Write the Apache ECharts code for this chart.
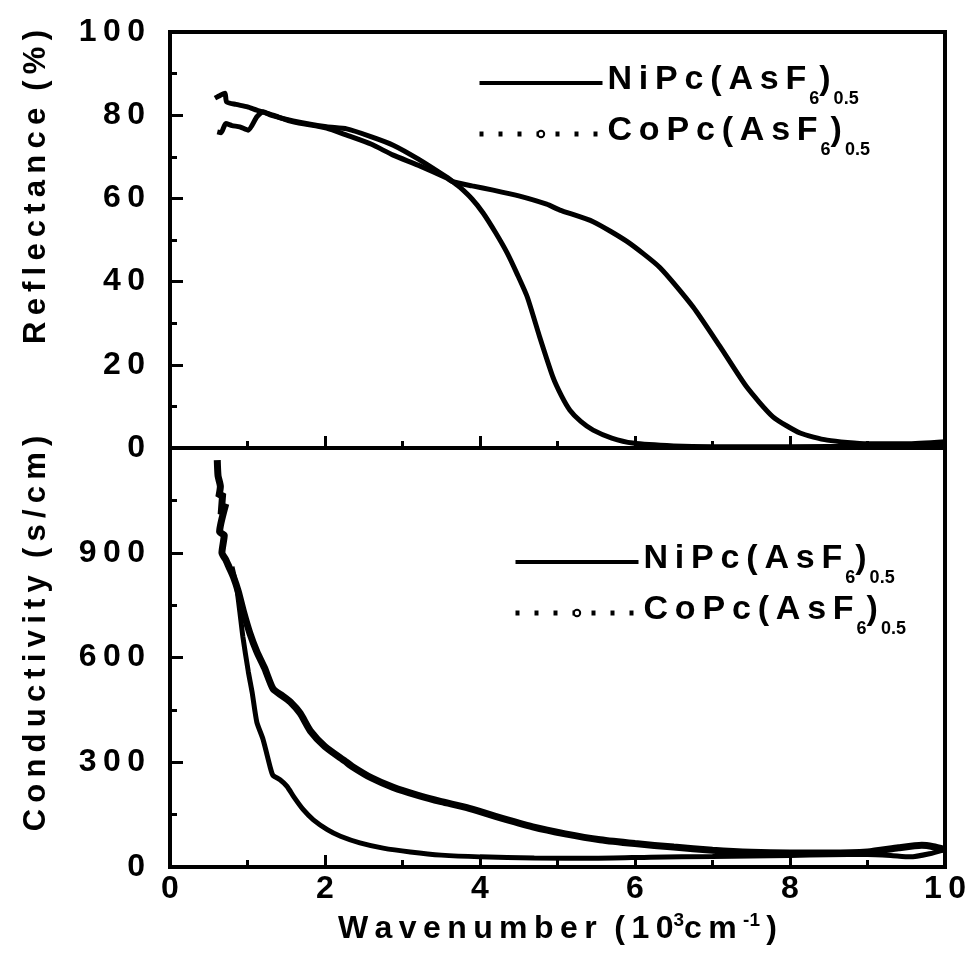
<!DOCTYPE html>
<html>
<head>
<meta charset="utf-8">
<script src="https://cdn.jsdelivr.net/npm/echarts@6/dist/echarts.min.js"></script>
<style>
  html, body { margin: 0; padding: 0; background: #fff; }
  #main { width: 972px; height: 957px; }
</style>
</head>
<body>
<div id="main"></div>
<script>
// wavenumber in 10^3 cm^-1
const NI = 'NiPc(AsF6)0.5'
const CO = 'CoPc(AsF6)0.5'

// reflectance (%)
const niReflX = [0.58, 0.65, 0.71, 0.73, 0.85, 1.0, 1.12, 1.33, 1.59, 2.02, 2.28, 2.6, 2.88, 3.2, 3.57, 3.65, 3.9, 4.17, 4.5, 4.86, 5.03, 5.46, 5.9, 6.32, 6.75, 7.1, 7.44, 7.78, 8.13, 8.48, 9.0, 9.5, 10.0]
const niReflY = [84.1, 84.8, 85.3, 83.2, 82.6, 82.0, 81.2, 80.0, 78.4, 76.9, 75.2, 73.0, 70.4, 68.0, 64.9, 64.0, 63.0, 62.0, 60.6, 58.6, 57.2, 54.4, 49.6, 43.4, 33.9, 24.3, 14.7, 7.5, 3.6, 1.9, 1.0, 1.0, 1.5]
const coReflX = [0.61, 0.66, 0.72, 0.8, 0.9, 1.01, 1.12, 1.2, 1.3, 1.59, 2.02, 2.28, 2.6, 2.88, 3.2, 3.57, 3.65, 3.74, 3.9, 4.04, 4.2, 4.35, 4.48, 4.61, 4.77, 4.94, 5.05, 5.16, 5.3, 5.46, 5.7, 5.97, 6.5, 7.0, 8.0, 9.0, 10.0]
const coReflY = [76.0, 75.8, 78.0, 77.5, 77.2, 76.4, 79.6, 80.8, 80.0, 78.6, 77.2, 76.7, 74.8, 72.8, 69.5, 65.1, 64.0, 62.7, 59.8, 56.5, 51.8, 46.9, 41.8, 36.3, 26.7, 17.1, 12.6, 9.1, 6.4, 4.3, 2.4, 1.2, 0.5, 0.3, 0.3, 0.4, 0.8]

// conductivity (s/cm)
const niCondX = [0.61, 0.62, 0.65, 0.63, 0.68, 0.66, 0.72, 0.64, 0.70, 0.67, 0.72, 0.76, 0.82, 0.88, 0.95, 1.03, 1.12, 1.22, 1.33, 1.45, 1.55, 1.68, 1.81, 2.0, 2.26, 2.35, 2.6, 2.88, 3.2, 3.5, 3.83, 4.2, 4.68, 5.1, 5.55, 6.0, 6.5, 7.0, 7.5, 8.0, 8.5, 9.0, 9.4, 9.7, 9.85, 10.0]
const niCondY = [1165, 1120, 1090, 1060, 1070, 1010, 1040, 960, 950, 900, 880, 860, 830, 790, 730, 670, 617, 570, 510, 490, 473, 440, 390, 345, 303, 288, 255, 228, 205, 187, 170, 145, 115, 95, 78, 67, 57, 48, 42, 40, 40, 43, 55, 62, 58, 50]
const coCondX = [0.8, 0.86, 0.9, 0.94, 1.01, 1.06, 1.12, 1.2, 1.3, 1.33, 1.42, 1.51, 1.6, 1.72, 1.85, 2.03, 2.2, 2.45, 2.75, 3.1, 3.5, 4.0, 4.7, 5.5, 6.2, 7.0, 8.0, 8.5, 9.0, 9.3, 9.55, 9.8, 10.0]
const coCondY = [860, 800, 733, 660, 560, 500, 415, 366, 280, 262, 250, 231, 200, 164, 135, 107, 88, 69, 54, 43, 34, 29, 26, 25, 28, 30, 33, 35, 36, 33, 29, 38, 50]

const FONT = 'Liberation Sans, Arial, Helvetica, sans-serif'
const spaced = s => s.split('').join('\u2009')
const numLabel = v => spaced(String(v))
const zip = (xs, ys) => xs.map((x, i) => [x, ys[i]])

const legendText = {}
legendText[NI] = '{m|' + spaced('NiPc(AsF') + '}{s|6}{m|)}{s|0.5}'
legendText[CO] = '{m|' + spaced('CoPc(AsF') + '}{s|6}{m|)}{s|0.5}'

const legendRich = {
  m: { fontFamily: FONT, fontSize: 34, fontWeight: 'bold', color: '#000', lineHeight: 40, verticalAlign: 'top' },
  s: { fontFamily: FONT, fontSize: 18, fontWeight: 'bold', color: '#000', lineHeight: 18, verticalAlign: 'top', padding: [27, 0, 0, 3] }
}

function makeLegend(left, top) {
  return {
    left: left,
    top: top,
    padding: 0,
    orient: 'vertical',
    itemWidth: 123,
    itemHeight: 8,
    itemGap: 6,
    data: [
      { name: NI, lineStyle: { type: 'solid', width: 4 }, itemStyle: { opacity: 0 } },
      { name: CO, lineStyle: { type: [4, 15], width: 5 } }
    ],
    formatter: name => legendText[name],
    textStyle: { rich: legendRich }
  }
}

const axisLine = { show: true, onZero: false, lineStyle: { color: '#000', width: 4 } }
const tickLabel = { fontFamily: FONT, fontSize: 32, fontWeight: 'bold', color: '#000' }

function xAxis(gridIndex, showLabel) {
  return {
    type: 'value', gridIndex: gridIndex, min: 0, max: 10, interval: 2,
    axisLine: axisLine,
    axisTick: { show: true, inside: true, length: 12, lineStyle: { color: '#000', width: 3 } },
    minorTick: { show: true, splitNumber: 2, length: 7, lineStyle: { color: '#000', width: 3 } },
    splitLine: { show: false },
    axisLabel: Object.assign({ show: showLabel, margin: 6, formatter: numLabel }, tickLabel),
    name: showLabel ? '{m|' + spaced('Wavenumber') + '  ' + spaced('(10') + '}{sup|3}{m|' + spaced('cm') + '\u2009}{sup|-1}{m|\u2009)}' : '',
    nameLocation: 'middle',
    nameGap: 44,
    nameTextStyle: {
      rich: {
        m: { fontFamily: FONT, fontSize: 32, fontWeight: 'bold', color: '#000', lineHeight: 36 },
        sup: { fontFamily: FONT, fontSize: 19, fontWeight: 'bold', color: '#000', lineHeight: 18, verticalAlign: 'top' }
      }
    }
  }
}

function yAxis(gridIndex, max, interval, name, shift) {
  return {
    type: 'value', gridIndex: gridIndex, min: 0, max: max, interval: interval,
    axisLine: axisLine,
    axisTick: { show: true, inside: true, length: 13, lineStyle: { color: '#000', width: 3 } },
    minorTick: { show: true, splitNumber: 2, length: 7, lineStyle: { color: '#000', width: 3 } },
    splitLine: { show: false },
    axisLabel: Object.assign({
      margin: 25,
      formatter: v => (gridIndex === 1 && v === max) ? '' : numLabel(v)
    }, tickLabel),
    name: name,
    nameLocation: 'middle',
    nameGap: 118,
    nameTextStyle: { fontFamily: FONT, fontSize: 31, fontWeight: 'bold', color: '#000', padding: [0, 0, 0, shift] }
  }
}

function lineSeries(name, xi, yi, data, width, symbol) {
  return {
    name: name, type: 'line', xAxisIndex: xi, yAxisIndex: yi,
    data: data,
    symbol: symbol, symbolSize: 6, showSymbol: false,
    smooth: 0.2,
    itemStyle: { color: '#000', borderColor: '#000', borderWidth: 1.5 },
    lineStyle: { color: '#000', width: width },
    z: 3
  }
}

const chart = echarts.init(document.getElementById('main'))
chart.setOption({
  animation: false,
  backgroundColor: '#fff',
  grid: [
    { left: 170, right: 27, top: 32, height: 416, show: true, borderColor: '#000', borderWidth: 4 },
    { left: 170, right: 27, top: 448, height: 419, show: true, borderColor: '#000', borderWidth: 4 }
  ],
  legend: [makeLegend(477, 63), makeLegend(513, 542)],
  xAxis: [xAxis(0, false), xAxis(1, true)],
  yAxis: [
    yAxis(0, 100, 20, spaced('Reflectance') + '  ' + spaced('(%)'), 106),
    yAxis(1, 1200, 300, spaced('Conductivity') + '  ' + spaced('(s/cm)'), 48)
  ],
  series: [
    lineSeries(NI, 0, 0, zip(niReflX, niReflY), 5, 'none'),
    lineSeries(CO, 0, 0, zip(coReflX, coReflY), 5, 'emptyCircle'),
    lineSeries(NI, 1, 1, zip(niCondX, niCondY), 7, 'none'),
    lineSeries(CO, 1, 1, zip(coCondX, coCondY), 5, 'emptyCircle')
  ]
})
</script>
</body>
</html>
